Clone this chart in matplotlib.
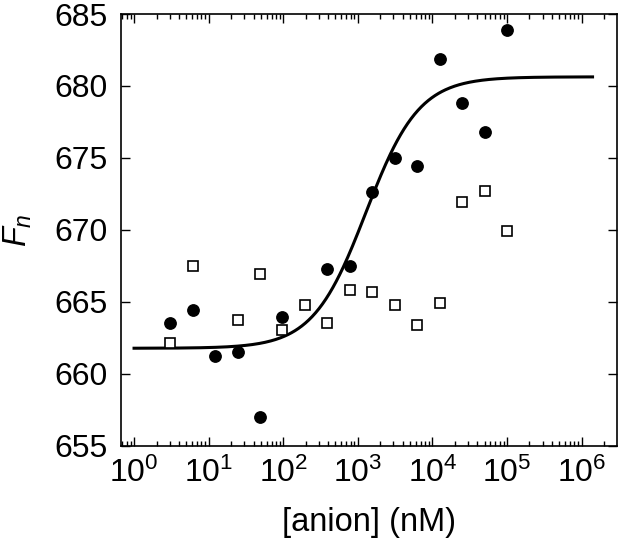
import numpy as np
import matplotlib
matplotlib.use("Agg")
import matplotlib.pyplot as plt
from matplotlib.ticker import LogLocator, NullFormatter, FixedLocator

plt.rcParams['font.family'] = ['Liberation Sans', 'DejaVu Sans']
plt.rcParams['mathtext.fontset'] = 'custom'
plt.rcParams['mathtext.rm'] = 'Liberation Sans'
plt.rcParams['mathtext.it'] = 'Liberation Sans:italic'
plt.rcParams['mathtext.bf'] = 'Liberation Sans:bold'

# Data (concentration in nM, serial 2-fold dilution from 1e5 nM)
conc_filled = [3.05, 6.1, 12.2, 24.4, 48.8, 97.7, 390.6, 781.3, 1562.5, 3125, 6250, 12500, 25000, 50000, 100000]
fn_filled = [663.5, 664.4, 661.2, 661.5, 657.0, 663.9, 667.3, 667.5, 672.6, 675.0, 674.4, 681.9, 678.8, 676.8, 683.9]

conc_open = [3.05, 6.1, 24.4, 48.8, 97.7, 195.3, 390.6, 781.3, 1562.5, 3125, 6250, 12500, 25000, 50000, 100000]
fn_open = [662.1, 667.5, 663.7, 666.9, 663.0, 664.8, 663.5, 665.8, 665.7, 664.8, 663.4, 664.9, 671.9, 672.7, 669.9]

x_major_ticks = [1e0, 1e1, 1e2, 1e3, 1e4, 1e5, 1e6]
y_ticks = [655, 660, 665, 670, 675, 680, 685]

# Fit (Hill) parameters
fit_bottom = 661.76
fit_top = 680.63
fit_ec50 = 1282.0
fit_hill = 1.22
fit_xmin, fit_xmax = 1.0, 1.4e6

fig = plt.figure(figsize=(6.2, 5.39), dpi=100)
ax = fig.add_axes([121/620, 1-445.5/539, (616.7-121)/620, (445.5-14)/539])

xf = np.logspace(np.log10(fit_xmin), np.log10(fit_xmax), 400)
yf = fit_bottom + (fit_top - fit_bottom) / (1 + (fit_ec50 / xf) ** fit_hill)
ax.plot(xf, yf, color='black', lw=2.2, zorder=2)

ax.plot(conc_filled, fn_filled, 'o', color='black', ms=8.2, zorder=3)
ax.plot(conc_open, fn_open, 's', mfc='white', mec='black', mew=1.2, ms=7.4, zorder=3)

ax.set_xscale('log')
ax.set_xlim(10**-0.175, 10**6.47)
ax.set_ylim(655, 685)
ax.xaxis.set_major_locator(FixedLocator(x_major_ticks))
ax.xaxis.set_minor_locator(LogLocator(base=10, subs=np.arange(2, 10), numticks=100))
ax.xaxis.set_minor_formatter(NullFormatter())
ax.yaxis.set_major_locator(FixedLocator(y_ticks))

ax.tick_params(which='both', direction='in', top=True, right=True, width=1.0)
ax.tick_params(which='major', length=6.8, labelsize=23)
ax.tick_params(which='minor', length=3.8)
ax.tick_params(axis='y', which='major', pad=9.5)
ax.tick_params(axis='x', which='major', pad=8.5)
for s in ax.spines.values():
    s.set_linewidth(1.2)

ax.set_xlabel('[anion] (nM)', fontsize=23.5, labelpad=13)
ax.set_ylabel('$F_n$', fontsize=23.5, labelpad=15)

fig.savefig('out.png', dpi=100)
